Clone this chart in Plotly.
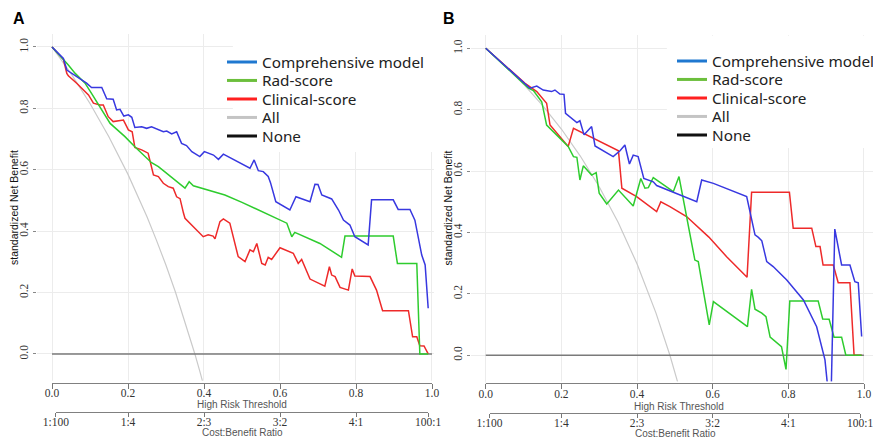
import plotly.graph_objects as go

W, H = 873, 438

# ---------------- data: panel A ----------------
thr_A_comp = [0.0,0.030,0.039,0.065,0.091,0.104,0.131,0.144,0.161,0.170,0.179,0.189,0.201,0.210,0.218,0.236,0.249,0.262,0.293,0.302,0.315,0.328,0.341,0.354,0.368,0.389,0.401,0.425,0.438,0.451,0.521,0.532,0.543,0.556,0.569,0.575,0.589,0.626,0.642,0.679,0.692,0.700,0.710,0.736,0.754,0.767,0.784,0.797,0.828,0.832,0.841,0.898,0.911,0.942,0.955,0.973,0.982,0.990]
nb_A_comp = [1.0,0.963,0.925,0.903,0.882,0.868,0.868,0.831,0.830,0.795,0.797,0.775,0.779,0.771,0.738,0.740,0.735,0.740,0.724,0.726,0.717,0.724,0.686,0.679,0.659,0.643,0.659,0.648,0.634,0.651,0.605,0.632,0.597,0.594,0.578,0.558,0.496,0.469,0.512,0.496,0.553,0.552,0.518,0.505,0.469,0.436,0.420,0.382,0.360,0.355,0.502,0.502,0.471,0.471,0.436,0.322,0.290,0.149]

thr_A_rad = [0.0,0.030,0.043,0.061,0.087,0.104,0.153,0.192,0.218,0.262,0.280,0.350,0.361,0.372,0.455,0.500,0.565,0.618,0.631,0.639,0.705,0.762,0.771,0.898,0.909,0.960,0.968,0.990]
nb_A_rad = [1.0,0.960,0.941,0.914,0.882,0.849,0.751,0.708,0.675,0.623,0.610,0.540,0.561,0.548,0.518,0.494,0.458,0.426,0.382,0.396,0.360,0.315,0.384,0.384,0.295,0.295,0.0,0.0]

thr_A_clin = [0.0,0.030,0.039,0.043,0.065,0.096,0.109,0.126,0.135,0.148,0.161,0.188,0.201,0.211,0.218,0.236,0.253,0.267,0.280,0.293,0.306,0.319,0.328,0.337,0.346,0.350,0.398,0.411,0.424,0.429,0.442,0.451,0.468,0.490,0.508,0.521,0.530,0.539,0.552,0.561,0.569,0.578,0.600,0.635,0.648,0.657,0.679,0.718,0.730,0.736,0.745,0.758,0.780,0.790,0.797,0.837,0.854,0.870,0.938,0.949,0.960,0.968,0.979,0.990]
nb_A_clin = [1.0,0.960,0.914,0.906,0.882,0.844,0.817,0.811,0.811,0.773,0.757,0.762,0.730,0.724,0.673,0.665,0.654,0.583,0.578,0.556,0.545,0.540,0.512,0.506,0.459,0.442,0.382,0.388,0.384,0.375,0.431,0.440,0.426,0.317,0.301,0.339,0.333,0.360,0.295,0.290,0.315,0.308,0.346,0.328,0.295,0.308,0.244,0.221,0.284,0.257,0.252,0.217,0.208,0.277,0.254,0.252,0.208,0.141,0.141,0.056,0.056,0.027,0.026,0.0]

thr_A_all = [0.0,0.05,0.10,0.15,0.20,0.25,0.275,0.30,0.325,0.35,0.376,0.39,0.40]
nb_A_all = [1.0,0.913,0.816,0.707,0.585,0.447,0.370,0.289,0.201,0.106,0.0,-0.061,-0.107]

# ---------------- data: panel B ----------------
thr_B_comp = [0.0,0.073,0.117,0.135,0.152,0.174,0.183,0.196,0.207,0.211,0.241,0.249,0.260,0.280,0.289,0.337,0.355,0.368,0.380,0.390,0.403,0.418,0.443,0.452,0.558,0.571,0.602,0.690,0.712,0.721,0.730,0.743,0.760,0.796,0.840,0.875,0.897,0.912,0.923,0.941,0.963,0.976,0.985,0.994]
nb_B_comp = [1.0,0.918,0.870,0.877,0.864,0.859,0.864,0.851,0.850,0.788,0.758,0.764,0.718,0.745,0.682,0.647,0.666,0.685,0.623,0.652,0.647,0.576,0.565,0.553,0.500,0.571,0.560,0.517,0.392,0.384,0.373,0.305,0.289,0.245,0.180,0.093,-0.015,-0.2,0.411,0.294,0.294,0.240,0.236,0.061]

thr_B_rad = [0.0,0.073,0.082,0.113,0.126,0.148,0.161,0.218,0.232,0.241,0.249,0.258,0.280,0.292,0.300,0.320,0.351,0.390,0.410,0.421,0.430,0.443,0.496,0.511,0.553,0.562,0.591,0.602,0.692,0.703,0.712,0.730,0.741,0.752,0.782,0.794,0.804,0.879,0.891,0.908,0.921,0.941,0.952,0.994]
nb_B_rad = [1.0,0.918,0.906,0.870,0.862,0.826,0.750,0.680,0.647,0.645,0.571,0.617,0.587,0.595,0.528,0.493,0.538,0.486,0.576,0.544,0.546,0.579,0.533,0.582,0.310,0.305,0.099,0.175,0.093,0.215,0.150,0.137,0.126,0.059,0.028,-0.046,0.177,0.177,0.118,0.117,0.059,0.059,0.001,0.0]

thr_B_clin = [0.0,0.073,0.104,0.135,0.161,0.170,0.218,0.232,0.258,0.351,0.360,0.399,0.452,0.463,0.487,0.531,0.590,0.637,0.691,0.703,0.803,0.813,0.862,0.873,0.884,0.892,0.919,0.932,0.963,0.974,0.994]
nb_B_clin = [1.0,0.918,0.886,0.859,0.821,0.750,0.680,0.739,0.723,0.666,0.544,0.517,0.468,0.500,0.484,0.452,0.385,0.321,0.254,0.531,0.531,0.414,0.414,0.354,0.354,0.294,0.294,0.236,0.236,0.0,0.0]

thr_B_all = [0.0,0.05,0.10,0.15,0.20,0.25,0.30,0.35,0.40,0.45,0.487,0.51,0.52]
nb_B_all = [1.0,0.945,0.883,0.814,0.737,0.649,0.549,0.433,0.298,0.138,0.0,-0.096,-0.141]

thr_none = [0.0, 1.0]
nb_none = [0.0, 0.0]

tick_vals = [0.0, 0.2, 0.4, 0.6, 0.8, 1.0]
tick_text = ["0.0", "0.2", "0.4", "0.6", "0.8", "1.0"]
cb_vals = [0.01, 0.2, 0.4, 0.6, 0.8, 0.99]
cb_text = ["1:100", "1:4", "2:3", "3:2", "4:1", "100:1"]

series_names = ["Comprehensive model", "Rad-score", "Clinical-score", "All", "None"]
legend_colors = ["#1f78d0", "#6cbf3c", "#ff2020", "#c4c4c4", "#111111"]
C_BLUE, C_GREEN, C_RED, C_ALL, C_NONE = "#3838e0", "#2ecc2e", "#ee2a2a", "#cacaca", "#7a7a7a"

# ---------------- helpers (pixel -> paper) ----------------
def fx(p):
    return p / W

def fy(p):
    return 1 - p / H

fig = go.Figure()

LEG_FONT = dict(family="Noto Sans", size=15.3, color="#222222")
legend_layout = {}

def add_panel(xa, ya, first_leg, leg_x, leg_y0, leg_dy, data):
    (ta, na), (tn, nn), (tc, nc), (tr, nr), (tb, nb) = data
    fig.add_trace(go.Scatter(x=ta, y=na, mode="lines", line=dict(color=C_ALL, width=1.2),
                             xaxis=xa, yaxis=ya, showlegend=False, hoverinfo="skip"))
    fig.add_trace(go.Scatter(x=tn, y=nn, mode="lines", line=dict(color=C_NONE, width=1.5),
                             xaxis=xa, yaxis=ya, showlegend=False, hoverinfo="skip"))
    fig.add_trace(go.Scatter(x=tc, y=nc, mode="lines", line=dict(color=C_RED, width=1.5),
                             xaxis=xa, yaxis=ya, showlegend=False, hoverinfo="skip"))
    fig.add_trace(go.Scatter(x=tr, y=nr, mode="lines", line=dict(color=C_GREEN, width=1.5),
                             xaxis=xa, yaxis=ya, showlegend=False, hoverinfo="skip"))
    fig.add_trace(go.Scatter(x=tb, y=nb, mode="lines", line=dict(color=C_BLUE, width=1.5),
                             xaxis=xa, yaxis=ya, showlegend=False, hoverinfo="skip"))
    for i, (name, col) in enumerate(zip(series_names, legend_colors)):
        n = first_leg + i
        key = "legend" if n == 1 else f"legend{n}"
        fig.add_trace(go.Scatter(x=[None], y=[None], mode="lines", name=name,
                                 line=dict(color=col, width=3), legend=key,
                                 xaxis=xa, yaxis=ya, hoverinfo="skip"))
        legend_layout[key] = dict(x=fx(leg_x), y=fy(leg_y0 + i * leg_dy), xanchor="left", yanchor="middle",
                                  bgcolor="rgba(0,0,0,0)", font=LEG_FONT, borderwidth=0)

add_panel("x", "y", 1, 222, 62, 18.5, [(thr_A_all, nb_A_all), (thr_none, nb_none),
                                       (thr_A_clin, nb_A_clin), (thr_A_rad, nb_A_rad),
                                       (thr_A_comp, nb_A_comp)])
add_panel("x2", "y2", 6, 672, 61, 18.5, [(thr_B_all, nb_B_all), (thr_none, nb_none),
                                         (thr_B_clin, nb_B_clin), (thr_B_rad, nb_B_rad),
                                         (thr_B_comp, nb_B_comp)])

# invisible traces to register the auxiliary axes
for xa, ya, rng in [("x3", "y3", cb_vals), ("x4", "y4", cb_vals), ("x5", "y5", tick_vals), ("x6", "y6", tick_vals)]:
    fig.add_trace(go.Scatter(x=[rng[0], rng[-1]], y=[0, 0], mode="lines", line=dict(width=0, color="rgba(0,0,0,0)"),
                             xaxis=xa, yaxis=ya, showlegend=False, hoverinfo="skip"))

GRID = "#ececec"
serif = dict(family="Liberation Serif", size=11.5, color="#333333")

main_x = dict(tickvals=tick_vals, showticklabels=False, ticks="", showgrid=True, gridcolor=GRID,
              gridwidth=1, zeroline=False, showline=False, fixedrange=True, automargin=False)
main_y = dict(tickvals=tick_vals, ticktext=tick_text, tickangle=-90, ticks="outside", ticklen=3,
              tickcolor="#888888", tickfont=serif, showgrid=True, gridcolor=GRID, gridwidth=1,
              zeroline=False, showline=False, range=[-0.092, 1.042], fixedrange=True, automargin=False)
aux_y = dict(visible=False, range=[0, 1], fixedrange=True, automargin=False)
tick_x = dict(tickvals=tick_vals, ticktext=tick_text, ticks="outside", ticklen=5, tickcolor="#777777",
              showline=True, linecolor="#808080", linewidth=1, showgrid=False, zeroline=False,
              tickfont=serif, range=[0, 1], fixedrange=True, automargin=False, ticklabelstandoff=-5,
              ticklabeloverflow="allow")
cb_x = dict(tickvals=cb_vals, ticktext=cb_text, ticks="outside", ticklen=4, tickcolor="#777777",
            showline=True, linecolor="#808080", linewidth=1, showgrid=False, zeroline=False,
            tickfont=serif, range=[0.01, 0.99], fixedrange=True, automargin=False, ticklabelstandoff=-5,
            ticklabeloverflow="allow")

fig.update_layout(
    width=W, height=H, autosize=False,
    margin=dict(l=0, r=0, t=0, b=0, pad=0, autoexpand=False),
    paper_bgcolor="white", plot_bgcolor="white",
    xaxis=dict(main_x, domain=[fx(36.8), fx(434)], range=[-0.04, 1.0053], anchor="y"),
    yaxis=dict(main_y, domain=[fy(382.2), fy(34.1)], anchor="x"),
    xaxis2=dict(main_x, domain=[fx(470.6), 1.0], range=[-0.04, 1.024], anchor="y2"),
    yaxis2=dict(main_y, domain=[fy(383.5), fy(35.4)], anchor="x2"),
    xaxis3=dict(cb_x, domain=[fx(55.8), fx(428.2)], anchor="y3"),
    yaxis3=dict(aux_y, domain=[fy(412), fy(410)], anchor="x3"),
    xaxis4=dict(cb_x, domain=[fx(489.5), fx(860.2)], anchor="y4"),
    yaxis4=dict(aux_y, domain=[fy(413.3), fy(411.3)], anchor="x4"),
    xaxis5=dict(tick_x, domain=[fx(52), fx(432)], anchor="y5"),
    yaxis5=dict(aux_y, domain=[fy(382.6), fy(380.6)], anchor="x5"),
    xaxis6=dict(tick_x, domain=[fx(485.7), fx(864)], anchor="y6"),
    yaxis6=dict(aux_y, domain=[fy(383.4), fy(381.4)], anchor="x6"),
    showlegend=True,
    **legend_layout,
)

# white boxes behind the legends hiding the grid
fig.add_shape(type="rect", xref="x", yref="y", x0=0.476, x1=1.0053, y0=0.658, y1=1.042,
              fillcolor="white", line=dict(width=0), layer="between")
fig.add_shape(type="rect", xref="x2", yref="y2", x0=0.479, x1=1.024, y0=0.675, y1=1.042,
              fillcolor="white", line=dict(width=0), layer="between")

sans = "Liberation Sans"
annots = [
    dict(text="<b>A</b>", x=fx(18.5), y=fy(18.5), font=dict(family=sans, size=16, color="black")),
    dict(text="<b>B</b>", x=fx(449.5), y=fy(18.5), font=dict(family=sans, size=16, color="black")),
    dict(text="High Risk Threshold", x=fx(241.7), y=fy(404.5), font=dict(family=sans, size=10, color="#555555")),
    dict(text="High Risk Threshold", x=fx(678.5), y=fy(406.5), font=dict(family=sans, size=10, color="#555555")),
    dict(text="Cost:Benefit Ratio", x=fx(242.7), y=fy(432.5), font=dict(family=sans, size=10, color="#555555")),
    dict(text="Cost:Benefit Ratio", x=fx(675), y=fy(433.5), font=dict(family=sans, size=10, color="#555555")),
    dict(text="standardized Net Benefit", x=fx(14), y=fy(208), textangle=-90,
         font=dict(family=sans, size=10.5, color="#111111")),
    dict(text="standardized Net Benefit", x=fx(447.5), y=fy(208), textangle=-90,
         font=dict(family=sans, size=10.5, color="#111111")),
]
for a in annots:
    fig.add_annotation(xref="paper", yref="paper", showarrow=False, xanchor="center", yanchor="middle", **a)

fig.write_html("out.html", config={"displayModeBar": False},
               post_script="document.body.style.margin='0px';document.body.style.overflow='hidden';")
